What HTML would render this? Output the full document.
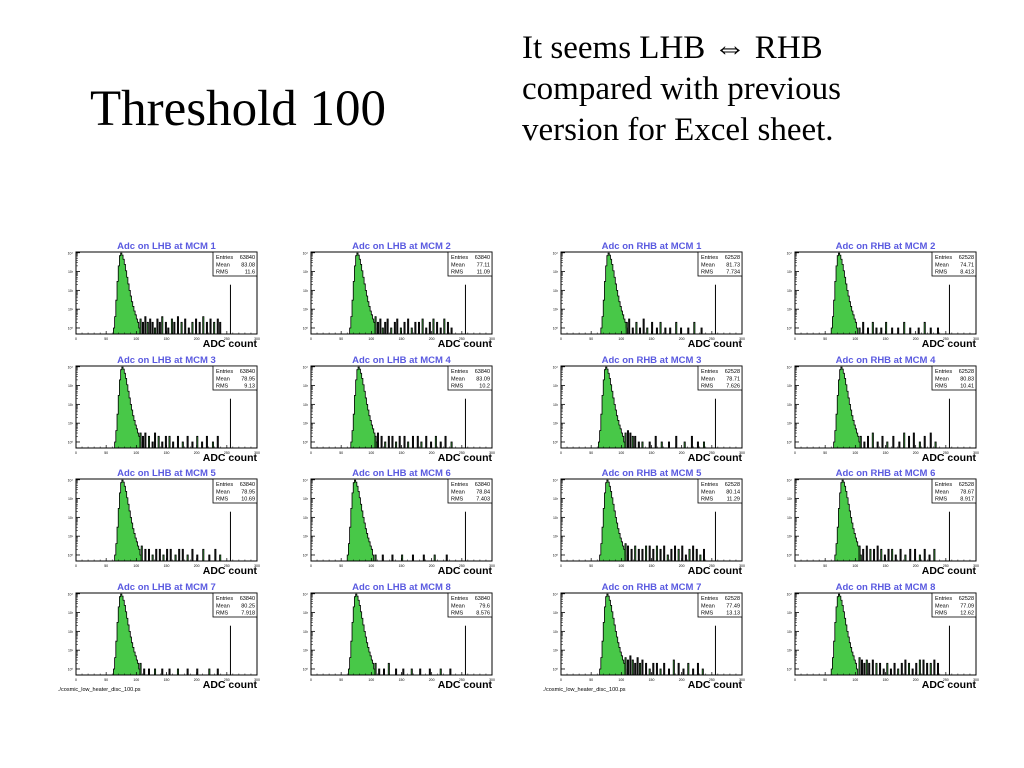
<!DOCTYPE html>
<html><head><meta charset="utf-8"><style>
body{margin:0;background:#fff;width:1024px;height:768px;overflow:hidden;position:relative;font-family:"Liberation Serif",serif}
.t{position:absolute;color:#000;white-space:nowrap}
</style></head><body>
<div class="t" style="left:90px;top:80px;font-size:51px;">Threshold 100</div>
<div class="t" style="left:522px;top:28px;font-size:33px;line-height:41px;">It seems LHB ⇔ RHB<br>compared with previous<br>version for Excel sheet.</div>
<svg id="s" width="1024" height="768" style="position:absolute;left:0;top:0" xmlns="http://www.w3.org/2000/svg"></svg>
<script>
const titles=["Adc on LHB at MCM 1","Adc on LHB at MCM 2","Adc on RHB at MCM 1","Adc on RHB at MCM 2","Adc on LHB at MCM 3","Adc on LHB at MCM 4","Adc on RHB at MCM 3","Adc on RHB at MCM 4","Adc on LHB at MCM 5","Adc on LHB at MCM 6","Adc on RHB at MCM 5","Adc on RHB at MCM 6","Adc on LHB at MCM 7","Adc on LHB at MCM 8","Adc on RHB at MCM 7","Adc on RHB at MCM 8"];
const entries=["63840","63840","62528","62528","63840","63840","62528","62528","63840","63840","62528","62528","63840","63840","62528","62528"];
const means=["83.08","77.11","81.73","74.71","78.95","83.09","78.71","80.83","78.95","78.84","80.14","78.67","80.25","79.6","77.49","77.09"];
const rmsv=["11.6","11.09","7.734","8.413","9.13","10.2","7.626","10.41","10.69","7.403","11.29","8.917","7.918","8.576","13.13","12.62"];
const peakStart=[62,64,66,60,64,66,62,64,64,60,64,66,62,62,64,60];
const peakProfile=[1,4,30,300,2000,7000,9500,7500,4500,2400,1100,500,220,100,50,25,14,8,5,3,2,1];
const tails=[
[[106,3],[110,2],[114,4],[118,2],[122,3],[126,2],[130,1],[134,3],[138,2],[142,4],[148,2],[152,1],[158,3],[162,2],[168,4],[174,2],[180,3],[186,1],[192,2],[198,3],[204,2],[210,4],[216,2],[222,3],[228,2],[234,3],[238,2]],
[[106,4],[110,2],[114,3],[118,1],[122,2],[126,3],[132,1],[138,2],[142,3],[148,1],[154,2],[160,3],[166,1],[172,2],[178,2],[184,3],[190,1],[196,2],[202,3],[208,2],[214,1],[220,3],[226,2],[232,1]],
[[108,2],[112,3],[118,1],[124,2],[130,1],[136,3],[142,1],[150,2],[158,1],[164,2],[172,1],[180,1],[190,2],[198,1],[210,1],[220,2],[232,1]],
[[106,1],[112,2],[120,1],[128,2],[134,1],[142,1],[150,2],[160,1],[170,1],[180,2],[190,1],[204,1],[214,2],[224,1],[236,1]],
[[106,3],[110,2],[114,3],[120,2],[126,1],[130,3],[136,2],[142,1],[148,2],[154,2],[160,1],[168,2],[176,1],[184,2],[192,1],[200,2],[208,1],[216,2],[226,1],[234,2]],
[[106,2],[110,3],[116,2],[122,1],[128,2],[134,2],[140,1],[146,2],[154,2],[160,1],[168,2],[176,2],[182,1],[190,2],[198,1],[206,2],[214,1],[222,2],[232,1]],
[[106,3],[110,4],[114,3],[118,2],[122,2],[128,1],[134,1],[146,1],[156,2],[166,1],[178,1],[190,2],[204,1],[216,2],[226,1],[236,1]],
[[108,2],[114,1],[120,2],[128,3],[136,1],[144,2],[152,1],[162,2],[172,1],[180,3],[188,2],[196,3],[206,1],[214,2],[224,3],[232,1]],
[[108,3],[114,2],[120,2],[126,1],[132,2],[138,2],[144,1],[150,2],[156,2],[164,1],[170,2],[176,2],[184,1],[192,2],[200,1],[210,2],[220,1],[230,2],[238,1]],
[[106,1],[118,1],[134,1],[150,1],[168,1],[186,1],[204,1],[224,1]],
[[106,4],[110,3],[116,2],[122,3],[128,2],[134,2],[140,3],[146,3],[152,2],[158,3],[164,2],[170,3],[176,1],[182,2],[188,3],[194,2],[200,3],[206,1],[212,2],[218,3],[224,2],[230,1],[236,2]],
[[106,3],[112,2],[118,3],[124,2],[130,2],[136,3],[142,2],[148,1],[154,2],[160,2],[166,1],[174,2],[182,1],[190,2],[198,2],[206,1],[214,2],[222,1],[230,2]],
[[106,2],[112,1],[120,1],[130,1],[142,1],[154,1],[168,1],[184,1],[200,1],[220,1],[234,1]],
[[106,2],[112,1],[120,1],[128,2],[140,1],[152,1],[166,1],[180,1],[196,1],[214,1],[230,1]],
[[106,4],[110,3],[114,5],[118,3],[122,2],[126,4],[130,2],[134,3],[140,2],[146,1],[152,2],[158,2],[164,1],[170,2],[178,1],[186,3],[194,2],[202,1],[210,2],[218,1],[226,2],[234,1]],
[[106,4],[110,3],[114,2],[118,3],[122,2],[128,3],[134,2],[140,2],[146,1],[152,2],[158,1],[164,2],[170,1],[176,2],[182,3],[188,2],[194,1],[200,2],[206,3],[212,3],[218,2],[224,2],[230,3],[236,2]]
];
const spikeX=256, spikeC=200;
const xTicks=[0,50,100,150,200,250,300];
const yDecades=[0,1,2,3,4];
const colX=[76,311,561,795], rowY=[252,366,479,593];
const W=181,H=82, XMAX=300, LMIN=-0.32, LMAX=4.04, BIN=2;
const svg=document.getElementById('s');const NS='http://www.w3.org/2000/svg';
function mk(t,a,p){const e=document.createElementNS(NS,t);for(const k in a)e.setAttribute(k,a[k]);(p||svg).appendChild(e);return e;}
for(let i=0;i<16;i++){
  const x0=colX[i%4],y0=rowY[Math.floor(i/4)];
  const g=mk('g',{});
  
  
  const sx=v=>x0+v/XMAX*W;
  const sy=c=>y0+H-(Math.log10(Math.max(c,0.3))-LMIN)/(LMAX-LMIN)*H;
  const yb=y0+H;
  let d='M'+sx(peakStart[i])+','+yb;
  peakProfile.forEach((c,k)=>{const a=sx(peakStart[i]+k*BIN),b=sx(peakStart[i]+(k+1)*BIN);d+=' L'+a+','+sy(c)+' L'+b+','+sy(c);});
  d+=' L'+sx(peakStart[i]+peakProfile.length*BIN)+','+yb+'Z';
  const p=mk('path',{d:d,fill:'#48c848',stroke:'#000','stroke-width':0.8},g);
  
  tails[i].forEach(([v,c],k)=>{
    const r=mk('rect',{x:sx(v),y:sy(c),width:Math.max(sx(v+BIN)-sx(v),1),height:yb-sy(c),fill:k%3==0?'#48c848':'#222',stroke:'#000','stroke-width':0.8},g);
    
  });
  const sp=mk('line',{x1:sx(spikeX),x2:sx(spikeX),y1:yb,y2:sy(spikeC),stroke:'#000','stroke-width':1},g);
  
  const fr=mk('rect',{x:x0,y:y0,width:W,height:H,fill:'none',stroke:'#000','stroke-width':1},g);
  
  xTicks.forEach(t=>{mk('line',{x1:sx(t),x2:sx(t),y1:yb,y2:yb-3,stroke:'#000','stroke-width':0.7},g);
    const tx=mk('text',{x:sx(t),y:yb+6,'font-size':3.5,'text-anchor':'middle','font-family':'Liberation Sans'},g);tx.textContent=t;
    });
  for(let t=0;t<XMAX;t+=10)mk('line',{x1:sx(t),x2:sx(t),y1:yb,y2:yb-1.5,stroke:'#000','stroke-width':0.5},g);
  yDecades.forEach(e=>{const yy=sy(Math.pow(10,e));mk('line',{x1:x0,x2:x0+4,y1:yy,y2:yy,stroke:'#000','stroke-width':0.8},g);
    for(let m=2;m<10;m++){const y2=sy(m*Math.pow(10,e));if(y2>y0)mk('line',{x1:x0,x2:x0+2,y1:y2,y2:y2,stroke:'#000','stroke-width':0.5},g);}
    const ty=mk('text',{x:x0-3,y:yy+1.5,'font-size':3.5,'text-anchor':'end','font-family':'Liberation Sans'},g);ty.textContent='10'+['⁰','¹','²','³','⁴'][e];
    });
  const tt=mk('text',{x:x0+W/2,y:y0-3,'font-size':9.5,'font-weight':'bold','text-anchor':'middle',fill:'#5a5ae0','font-family':'Liberation Sans'},g);tt.textContent=titles[i];
  
  const at=mk('text',{x:x0+W,y:yb+13,'font-size':10.5,'font-weight':'bold','text-anchor':'end','font-family':'Liberation Sans'},g);at.textContent='ADC count';
  
  const bx=mk('rect',{x:x0+W-44,y:y0,width:44,height:24,fill:'#fff',stroke:'#000','stroke-width':0.8},g);
  
  [['Entries',entries[i]],['Mean',means[i]],['RMS',rmsv[i]]].forEach(([k,v],j)=>{
    const a=mk('text',{x:x0+W-41,y:y0+7+j*7.3,'font-size':5.5,'font-family':'Liberation Sans'},g);a.textContent=k;
    
    const b=mk('text',{x:x0+W-2,y:y0+7+j*7.3,'font-size':5.5,'text-anchor':'end','font-family':'Liberation Sans'},g);b.textContent=v;
    
  });
}
[58,543].forEach(x=>{const f=mk('text',{x:x,y:691,'font-size':5.5,'font-family':'Liberation Sans'});f.textContent='./cosmic_low_heater_disc_100.ps';
  });
</script>
</body></html>
